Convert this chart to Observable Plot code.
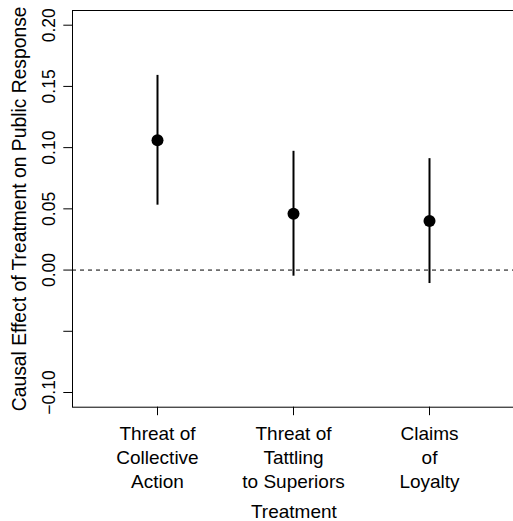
<!DOCTYPE html>
<html>
<head>
<meta charset="utf-8">
<script src="https://cdn.jsdelivr.net/npm/d3@7"></script>
<script src="https://cdn.jsdelivr.net/npm/@observablehq/plot@0.6"></script>
<style>
  html, body { margin: 0; padding: 0; background: white; }
</style>
</head>
<body>
<div id="chart"></div>
<script>
const treatments = ["Collective Action", "Tattling to Superiors", "Claims of Loyalty"];
const tickLabels = ["Threat of\nCollective\nAction", "Threat of\nTattling\nto Superiors", "Claims\nof\nLoyalty"];
const estimates = [0.106, 0.046, 0.040];
const lower = [0.053, -0.005, -0.011];
const upper = [0.159, 0.097, 0.091];
const yTicks = [-0.10, -0.05, 0, 0.05, 0.10, 0.15, 0.20];
const yLabelled = [-0.10, 0, 0.05, 0.10, 0.15, 0.20];
const xTitle = "Treatment";
const yTitle = "Causal Effect of Treatment on Public Response";

const data = treatments.map((t, i) => ({t, est: estimates[i], lo: lower[i], hi: upper[i]}));
const labelOf = Object.fromEntries(treatments.map((t, i) => [t, tickLabels[i]]));
const fmt = d => yLabelled.some(v => Math.abs(v - d) < 1e-9) ? (d < 0 ? "\u2212" : "") + Math.abs(d).toFixed(2) : "";

const chart = Plot.plot({
  width: 513,
  height: 521,
  marginLeft: 72,
  marginTop: 10,
  marginBottom: 114.3,
  marginRight: -1.7,
  style: {fontFamily: "'Liberation Sans', Arial, Helvetica, sans-serif", fontSize: "18px", background: "white", color: "black"},
  x: {type: "point", domain: treatments, padding: 0.62},
  y: {domain: [-0.112, 0.212]},
  marks: [
    Plot.frame({stroke: "black", strokeWidth: 1}),
    Plot.ruleY([0], {stroke: "black", strokeWidth: 1, strokeDasharray: "4,4"}),
    Plot.axisY({ticks: yTicks, tickFormat: fmt, tickSize: 8.7, tickPadding: 8.5, tickRotate: -90, fontSize: 17.5, label: null, strokeWidth: 1}),
    Plot.axisX({tickFormat: d => labelOf[d], tickSize: 8.5, tickPadding: 7, fontSize: 19, lineHeight: 1.27, label: null}),
    Plot.ruleX(data, {x: "t", y1: "lo", y2: "hi", stroke: "black", strokeWidth: 2}),
    Plot.dot(data, {x: "t", y: "est", r: 6, fill: "black", stroke: null}),
    Plot.text([xTitle], {frameAnchor: "bottom", dy: 97, lineAnchor: "top", fontSize: 19, text: d => d}),
    Plot.text([yTitle], {frameAnchor: "left", dx: -47, rotate: -90, lineAnchor: "bottom", textAnchor: "middle", fontSize: 19.3, text: d => d})
  ]
});
document.getElementById("chart").appendChild(chart);
</script>
</body>
</html>
